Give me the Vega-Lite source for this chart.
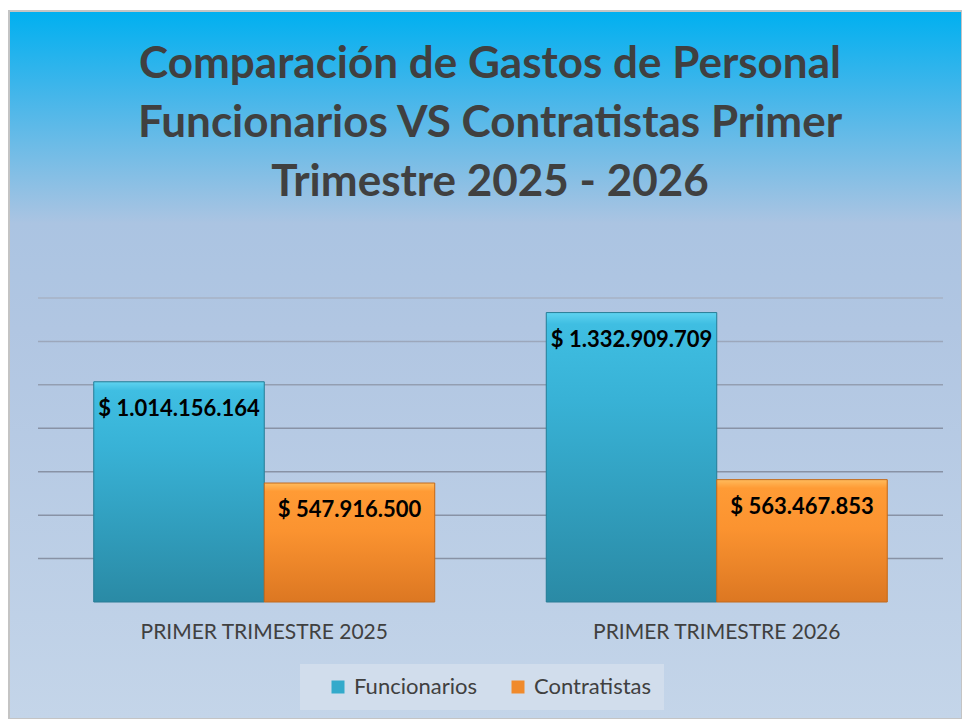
{
  "$schema": "https://vega.github.io/schema/vega-lite/v6.json",
  "width": 953,
  "height": 708,
  "autosize": {"type": "none"},
  "padding": {"left": 9, "top": 11, "right": 0, "bottom": 0},
  "background": "white",
  "config": {
    "font": "Lato",
    "locale": {"number": {"decimal": ",", "thousands": ".", "grouping": [3], "currency": ["$ ", ""]}},
    "view": {
      "fill": {"gradient": "linear", "x1": 0, "y1": 0, "x2": 0, "y2": 1, "stops": [
        {"offset": 0, "color": "#00b0f0"},
        {"offset": 0.12, "color": "#45b6ea"},
        {"offset": 0.3, "color": "#abc4e2"},
        {"offset": 0.45, "color": "#b1c6e2"},
        {"offset": 1, "color": "#c4d5e9"}
      ]},
      "stroke": "#c4c4c4",
      "strokeWidth": 2
    }
  },
  "title": {
    "text": ["Comparación de Gastos de Personal", "Funcionarios VS Contratistas Primer", "Trimestre 2025 - 2026"],
    "fontSize": 44,
    "fontWeight": "bold",
    "color": "#404040",
    "font": "Lato",
    "lineHeight": 59,
    "anchor": "middle",
    "frame": "group",
    "baseline": "top",
    "offset": -194,
    "dx": 4.5
  },
  "datasets": {
    "bars": [
      {"trimestre": "PRIMER TRIMESTRE 2025", "serie": "Funcionarios", "valor": 1014156164},
      {"trimestre": "PRIMER TRIMESTRE 2025", "serie": "Contratistas", "valor": 547916500},
      {"trimestre": "PRIMER TRIMESTRE 2026", "serie": "Funcionarios", "valor": 1332909709},
      {"trimestre": "PRIMER TRIMESTRE 2026", "serie": "Contratistas", "valor": 563467853}
    ],
    "grid": [
      {"v": 200000000}, {"v": 400000000}, {"v": 600000000}, {"v": 800000000},
      {"v": 1000000000}, {"v": 1200000000}, {"v": 1400000000}
    ]
  },
  "data": {"name": "bars"},
  "encoding": {
    "x": {
      "field": "trimestre", "type": "nominal",
      "scale": {"type": "band", "range": [29, 934], "paddingInner": 0, "paddingOuter": 0},
      "axis": {"title": null, "labelFontSize": 21, "labelColor": "#404040", "labelFont": "Lato", "ticks": false, "domain": false, "grid": false, "labelPadding": 0, "labelBaseline": "middle", "offset": -87, "labelAngle": 0, "labelLimit": 500}
    },
    "y": {
      "field": "valor", "type": "quantitative",
      "scale": {"domain": [-538800000, 2721700000], "nice": false, "zero": false},
      "axis": null
    }
  },
  "layer": [
    {
      "data": {"name": "grid"},
      "mark": {"type": "rule", "strokeWidth": 1.5},
      "encoding": {
        "x": {"datum": "PRIMER TRIMESTRE 2025", "type": "nominal", "bandPosition": 0},
        "x2": {"datum": "PRIMER TRIMESTRE 2026", "bandPosition": 1},
        "y": {"field": "v", "type": "quantitative"},
        "color": {"condition": [
          {"test": "datum.v >= 1400000000", "value": "#a7b2c5"},
          {"test": "datum.v >= 1200000000", "value": "#9ca7bb"},
          {"test": "datum.v >= 1000000000", "value": "#939eb1"}
        ], "value": "#8892a5"}
      }
    },
    {
      "mark": {"type": "bar"},
      "encoding": {
        "xOffset": {"field": "serie", "type": "nominal", "scale": {"domain": ["Funcionarios", "Contratistas"], "paddingInner": 0, "paddingOuter": 0.327}},
        "fill": {"field": "serie", "type": "nominal",
          "scale": {"domain": ["Funcionarios", "Contratistas"], "range": ["#33aacb", "#f08a2c"]},
          "legend": {
            "title": null, "orient": "none", "legendX": 291, "legendY": 653, "direction": "horizontal",
            "fillColor": "#d1ddec", "padding": 12, "symbolType": "square", "symbolSize": 169,
            "symbolOffset": 15,
            "symbolStrokeWidth": 0, "labelFontSize": 22, "labelColor": "#404040", "labelFont": "Lato",
            "labelOffset": 5, "columnPadding": 15, "labelLimit": 300
          }
        }
      }
    },
    {
      "mark": {"type": "bar", "strokeWidth": 1},
      "encoding": {
        "xOffset": {"field": "serie", "type": "nominal"},
        "fill": {"condition": {"test": "datum.serie === 'Funcionarios'", "value": {"gradient": "linear", "x1": 0, "y1": 0, "x2": 0, "y2": 1, "stops": [
          {"offset": 0, "color": "#5fd3f0"}, {"offset": 0.04, "color": "#3fbee2"}, {"offset": 0.3, "color": "#38b2d6"}, {"offset": 1, "color": "#2a8aa5"}]}},
          "value": {"gradient": "linear", "x1": 0, "y1": 0, "x2": 0, "y2": 1, "stops": [
          {"offset": 0, "color": "#ffbb5c"}, {"offset": 0.07, "color": "#ff9b35"}, {"offset": 0.4, "color": "#fb9330"}, {"offset": 1, "color": "#dc7722"}]}},
        "stroke": {"condition": {"test": "datum.serie === 'Funcionarios'", "value": "#2b7d96"}, "value": "#c26a1d"}
      }
    },
    {
      "data": {"values": [{}]},
      "mark": {"type": "rule", "color": "#404040", "strokeWidth": 3.5},
      "encoding": {
        "x": {"datum": "PRIMER TRIMESTRE 2025", "type": "nominal", "bandPosition": 0},
        "x2": {"datum": "PRIMER TRIMESTRE 2026", "bandPosition": 1},
        "y": {"datum": 0, "type": "quantitative"}
      }
    },
    {
      "mark": {"type": "text", "fontWeight": "bold", "fontSize": 22, "color": "#000000", "baseline": "middle", "dy": 27, "font": "Lato"},
      "encoding": {
        "xOffset": {"field": "serie", "type": "nominal"},
        "text": {"field": "valor", "type": "quantitative", "format": "$,.0f"}
      }
    }
  ]
}
